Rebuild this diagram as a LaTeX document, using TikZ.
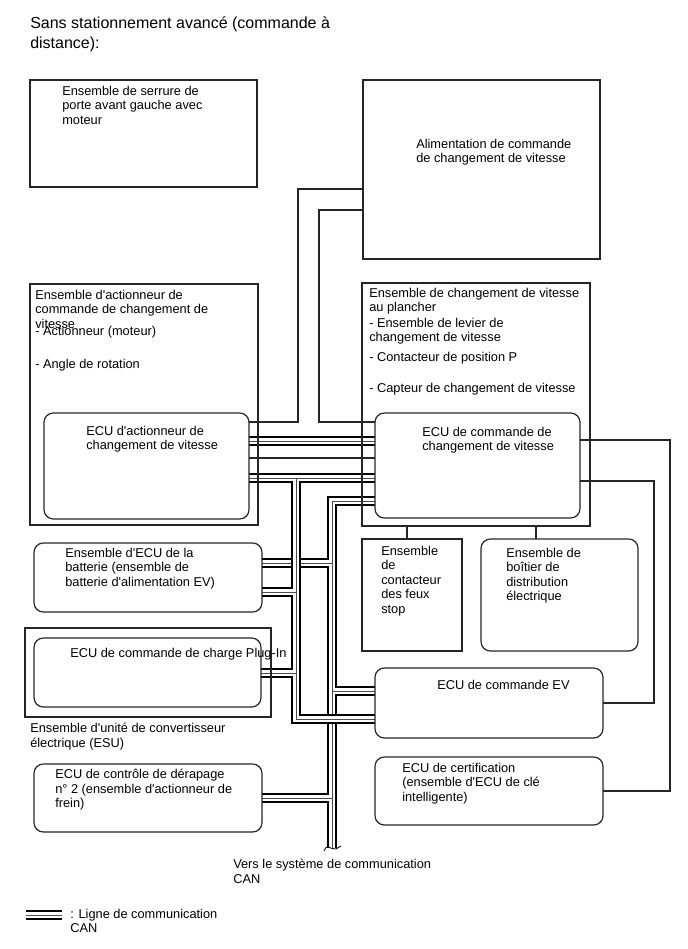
\documentclass[tikz,border=0pt]{standalone}
\usepackage{fontspec}
\setmainfont{Liberation Sans}[Ligatures=TeXOff]
\usetikzlibrary{fit,backgrounds}
\begin{document}
\begin{tikzpicture}[x=0.75pt,y=-0.75pt,
  box/.style={draw=black!85, line width=0.9pt, inner sep=0pt, outer sep=0pt, fit={#1}},
  rbox/.style={box={#1}, rounded corners=7pt},
  txt/.style={anchor=north west, inner sep=0pt, align=left, font=\fontsize{9.6pt}{10.8pt}\selectfont, execute at begin node=\strut},
  ttl/.style={anchor=north west, inner sep=0pt, align=left, font=\fontsize{12pt}{15pt}\selectfont, execute at begin node=\strut},
  wire/.style={draw=black!85, line width=0.8pt},
]
\useasboundingbox (0,0) rectangle (688,949);

% ---------- boxes ----------
\node[box={(30,80) (257,187)}] (b1) {};
\node[box={(363,80) (600,259)}] (b2) {};
\node[box={(30,284) (258,525)}] (b3) {};
\node[box={(362,283) (590,526)}] (b4) {};
\node[rbox={(44,413) (249,519)}] (ecuA) {};
\node[rbox={(375,413) (580,518)}] (ecuC) {};
\node[box={(362,539) (462,651)}] (stop) {};
\node[rbox={(481,539) (638,651)}] (boit) {};
\node[rbox={(34,543) (262,612)}] (bat) {};
\node[box={(25,628) (271,717)}] (esu) {};
\node[rbox={(34,638) (261,707)}] (plug) {};
\node[rbox={(375,668) (603,738)}] (ev) {};
\node[rbox={(34,764) (262,832)}] (brake) {};
\node[rbox={(375,757) (603,825)}] (cert) {};

% ---------- texts ----------
\node[ttl] (title) at (30,16) {Sans stationnement avancé (commande à\\distance):};
\node[txt] (t1) at (62,86) {Ensemble de serrure de\\porte avant gauche avec\\moteur};
\node[txt] (t2) at (416,139) {Alimentation de commande\\de changement de vitesse};
\node[txt] (t3) at (35,290) {Ensemble d'actionneur de\\commande de changement de\\vitesse};
\node[txt] (t3a) at (35,325) {- Actionneur (moteur)};
\node[txt] (t3b) at (35,358) {- Angle de rotation};
\node[txt] (t4) at (369,288) {Ensemble de changement de vitesse\\au plancher};
\node[txt] (t4a) at (369,318) {- Ensemble de levier de\\changement de vitesse};
\node[txt] (t4b) at (369,351) {- Contacteur de position P};
\node[txt] (t4c) at (369,382) {- Capteur de changement de vitesse};
\node[txt] (tA) at (86,426) {ECU d'actionneur de\\changement de vitesse};
\node[txt] (tC) at (422,427) {ECU de commande de\\changement de vitesse};
\node[txt] (tS) at (381,546) {Ensemble\\de\\contacteur\\des feux\\stop};
\node[txt] (tB) at (506,548) {Ensemble de\\boîtier de\\distribution\\électrique};
\node[txt] (tBat) at (65,548) {Ensemble d'ECU de la\\batterie (ensemble de\\batterie d'alimentation EV)};
\node[txt] (tP) at (70,647) {ECU de commande de charge Plug-In};
\node[txt] (tE) at (30,723) {Ensemble d'unité de convertisseur\\électrique (ESU)};
\node[txt] (tEV) at (437,679) {ECU de commande EV};
\node[txt] (tBr) at (55,769) {ECU de contrôle de dérapage\\n° 2 (ensemble d'actionneur de\\frein)};
\node[txt] (tCe) at (402,763) {ECU de certification\\(ensemble d'ECU de clé\\intelligente)};
\node[txt] (tV) at (233,859) {Vers le système de communication\\CAN};
\node[txt] (tL) at (70,909) {: Ligne de communication\\CAN};

\coordinate (legL) at (26,915);
\coordinate (legR) at (62,915);
\coordinate (canEnd) at (332,848);

\begin{pgfonlayer}{background}
% ---------- single wires ----------
\draw[wire] (b2.west |- 0,189) -| (298,422) -- (ecuA.east |- 0,422);
\draw[wire] (b2.west |- 0,210) -| (319,422) -- (ecuC.west |- 0,422);
\draw[wire] (ecuA.east |- 0,458) -- (ecuC.west |- 0,458);
\draw[wire] (ecuC.east |- 0,440) -| (670,791) -- (cert.east |- 0,791);
\draw[wire] (ecuC.east |- 0,481) -| (654,703) -- (ev.east |- 0,703);
\draw[wire] (stop.north -| 407,0) -- (b4.south -| 407,0);
\draw[wire] (boit.north -| 536,0) -- (b4.south -| 536,0);

% ---------- CAN group A ----------
\foreach \w/\c in {7.2pt/black, 4.8pt/white, 0.75pt/black!70}{
  \draw[line width=\w, draw=\c]
    (ecuA.east |- 0,441) -- (ecuC.west |- 0,441)
    (ecuC.west |- 0,501) -| (canEnd)
    (bat.east |- 0,563) -- (332,563)
    (ev.west |- 0,691) -- (332,691)
    (brake.east |- 0,798) -- (332,798)
    (legL) -- (legR);
}
% ---------- CAN group B ----------
\foreach \w/\c in {7.2pt/black, 4.8pt/white, 0.75pt/black!70}{
  \draw[line width=\w, draw=\c]
    (ecuA.east |- 0,478) -- (ecuC.west |- 0,478)
    (296,478) |- (ev.west |- 0,719)
    (bat.east |- 0,592) -- (296,592)
    (plug.east |- 0,673) -- (296,673);
}
\draw[line width=0.6pt] (324,851) .. controls (325,848) and (326,847) .. (328,847)
  .. controls (331,847) and (333,850) .. (336,849) .. controls (338,848) and (339,847) .. (341,846);
\end{pgfonlayer}
\end{tikzpicture}
\end{document}
